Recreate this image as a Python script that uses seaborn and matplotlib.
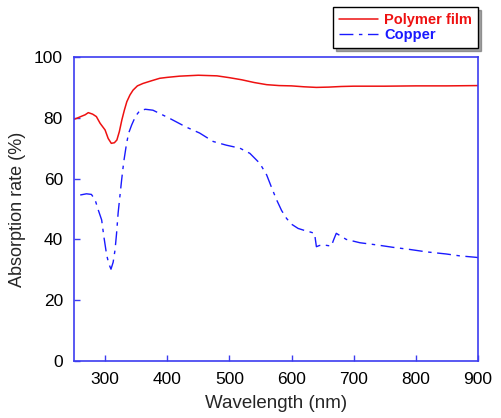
import matplotlib
matplotlib.use("Agg")
import matplotlib.pyplot as plt
import pandas as pd
import seaborn as sns

# Polymer film absorption spectrum
polymer_wl = [250, 254, 262, 268, 273, 280, 286, 292, 300, 305, 310, 315, 319,
              323, 327, 331, 335, 340, 345, 352, 361, 375, 388, 400, 420, 450,
              480, 500, 520, 540, 560, 580, 600, 620, 640, 660, 680, 700, 750,
              800, 850, 900]
polymer_abs = [79.5, 79.8, 80.5, 81.0, 81.7, 81.2, 80.4, 78.2, 76.0, 73.2, 71.6,
               71.8, 72.7, 75.5, 79.3, 82.5, 85.3, 87.5, 89.1, 90.5, 91.3, 92.2,
               93.0, 93.3, 93.7, 94.0, 93.8, 93.2, 92.5, 91.6, 90.9, 90.6, 90.5,
               90.2, 90.0, 90.1, 90.3, 90.4, 90.4, 90.5, 90.5, 90.6]

# Copper absorption spectrum
copper_wl = [260, 270, 278, 284, 289, 294.5, 298, 302.5, 306, 309.5, 313, 316,
             318.5, 321, 324, 326.6, 330, 334.6, 338, 342.7, 349, 356, 365, 377,
             390, 404, 430, 452, 474, 495, 517, 533, 549, 560, 568, 576, 584,
             592, 600, 610.6, 620, 629, 637, 640, 645, 650.8, 664, 668, 672,
             680, 688, 710, 736.6, 763, 790, 817, 849, 870, 897, 900]
copper_abs = [54.6, 55.0, 54.8, 53.0, 49.7, 46.4, 41.0, 34.9, 32.0, 30.2, 32.5,
              36.5, 42.0, 48.7, 54.5, 59.5, 65.5, 71.6, 75.0, 77.6, 80.5, 82.4,
              82.8, 82.5, 81.2, 79.8, 77.0, 75.0, 72.2, 71.0, 70.0, 68.3, 65.0,
              61.2, 57.0, 53.0, 49.5, 46.9, 45.0, 43.6, 43.0, 42.5, 42.0, 37.6,
              38.0, 38.2, 37.8, 40.0, 42.0, 41.0, 40.0, 38.9, 38.2, 37.4, 36.7,
              35.9, 35.2, 34.6, 34.1, 34.0]

x_ticks = [300, 400, 500, 600, 700, 800, 900]
y_ticks = [0, 20, 40, 60, 80, 100]

sns.set_style("ticks")
plt.rcParams["font.family"] = ["Liberation Sans", "DejaVu Sans"]

axis_blue = "#3c3cf0"
red = "#ee1111"
blue = "#1a1aff"

fig = plt.figure(figsize=(5.02, 4.18), dpi=100)
ax = fig.add_axes([74 / 502, 1 - 361 / 418, (478 - 74) / 502, (361 - 57) / 418])

polymer = pd.DataFrame({"wl": polymer_wl, "abs": polymer_abs})
copper = pd.DataFrame({"wl": copper_wl, "abs": copper_abs})

sns.lineplot(data=polymer, x="wl", y="abs", ax=ax, color=red,
             linewidth=1.1, label="Polymer film", sort=False)
sns.lineplot(data=copper, x="wl", y="abs", ax=ax, color=blue,
             linewidth=1.0, label="Copper", sort=False)
ax.lines[1].set_dashes([10, 4, 2.5, 4])

ax.set_xlim(250, 900)
ax.set_ylim(0, 100)
ax.set_xticks(x_ticks)
ax.set_yticks(y_ticks)
ax.tick_params(axis="both", direction="in", length=4, width=1,
               color=axis_blue, labelsize=12.5, labelcolor="black", pad=8)
for side in ["left", "right", "top", "bottom"]:
    ax.spines[side].set_visible(True)
    ax.spines[side].set_color(axis_blue)
    ax.spines[side].set_linewidth(1.2)

ax.set_xlabel("Wavelength (nm)", fontsize=13.5, labelpad=6)
ax.set_ylabel("Absorption rate (%)", fontsize=13, labelpad=6)

ax.get_legend().remove()
handles, labels = ax.get_legend_handles_labels()
leg = fig.legend(handles, labels, loc="upper right",
                 bbox_to_anchor=(478 / 502, 1 - 7 / 418),
                 borderaxespad=0, frameon=True, fancybox=False, shadow=True,
                 edgecolor="black", framealpha=1, borderpad=0.4,
                 handlelength=2.7, handletextpad=0.4, labelspacing=0.1,
                 prop={"weight": "bold", "size": 10.5})
leg.get_frame().set_linewidth(1.0)
for text, col in zip(leg.get_texts(), [red, blue]):
    text.set_color(col)

fig.savefig("out.png", dpi=100)
